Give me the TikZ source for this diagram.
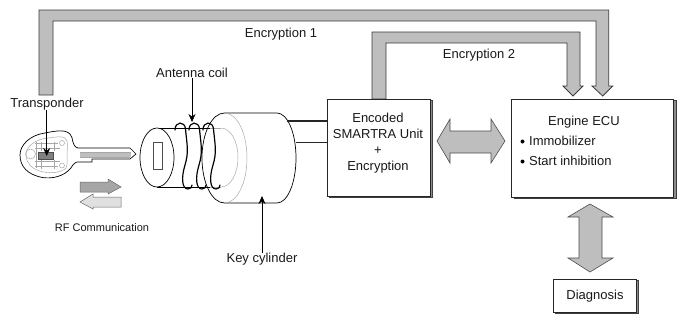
\documentclass[tikz,border=0pt]{standalone}
\usepackage{fontspec}
\setmainfont{Liberation Sans}
\usetikzlibrary{arrows.meta,calc}
\definecolor{pipefill}{HTML}{BEBEBE}
\definecolor{pipeline}{HTML}{3A3A3A}
\definecolor{sheet}{HTML}{8C8C8C}
\definecolor{fadeline}{HTML}{A8A8A8}
\tikzset{
  x=1pt,y=-1pt,
  label13/.style={inner sep=0pt,font=\fontsize{13}{16}\selectfont,text=black!90},
  label11/.style={inner sep=0pt,font=\fontsize{11}{14}\selectfont,text=black!90},
  panel/.style={draw=black!85,fill=white,line width=.7pt,inner sep=0pt},
  backsheet/.style={draw=black!75,fill=sheet,line width=.6pt,inner sep=0pt},
  pipe/.style={draw=pipeline,fill=pipefill,line width=.8pt,line join=miter},
  pointer/.style={draw=black,line width=.7pt,-{Stealth[length=8pt,width=7pt]}},
  outline/.style={draw=black,line width=.7pt},
  thin outline/.style={draw=fadeline,line width=.5pt},
  winding/.style={draw=black,line width=1.2pt,line cap=round},
}
\begin{document}
\begin{tikzpicture}
\useasboundingbox (0,0) rectangle (686,324);

% Encryption channels
\path[pipe] (39,95) -- (39,10) -- (608.7,10) -- (608.7,86) -- (612.7,86) -- (602.7,96)
  -- (592,86) -- (596,86) -- (596,21) -- (53,21) -- (53,95) -- cycle;
\path[pipe] (372,99) -- (372,32) -- (580,32) -- (580,86) -- (583,86) -- (573,96)
  -- (563,86) -- (567,86) -- (567,43) -- (386,43) -- (386,99) -- cycle;

% Stacked panels
\node[backsheet,minimum width=103,minimum height=97] at (381,148.5) {};
\node[panel,minimum width=103,minimum height=97] (smartra) at (378.5,147.5) {};
\node[backsheet,minimum width=162,minimum height=98] at (595,149.5) {};
\node[panel,minimum width=162,minimum height=98] (ecu) at (592,148) {};
\node[backsheet,minimum width=83,minimum height=33] at (597,297) {};
\node[panel,minimum width=83,minimum height=33] (diag) at (594.5,295.5) {};

\node[label13,align=center] (smartratext) at (378,143)
  {Encoded\\SMARTRA Unit\\+\\Encryption};
\node[label13] (ecutitle) at (584,122) {Engine ECU};
\node[label13,anchor=west] (immob) at (529,141) {Immobilizer};
\node[label13,anchor=west] (start) at (529,161) {Start inhibition};
\fill[black] (522.5,141.5) circle (2) (522.5,161.5) circle (2);
\node[label13] (diagtext) at (595,296) {Diagnosis};

% Two-way data paths
\path[pipe,draw=black!70,line width=.6pt]
  (437,141) -- (450,119) -- (450,131) -- (491,131) -- (491,119) -- (505,141)
  -- (491,163) -- (491,153) -- (450,153) -- (450,163) -- cycle;
\path[pipe,draw=black!70,line width=.6pt]
  (590,204) -- (613,217) -- (602,217) -- (602,258) -- (613,258) -- (590,272)
  -- (568,258) -- (579,258) -- (579,217) -- (568,217) -- cycle;

% Key cylinder body
\draw[outline] (224.5,203) .. controls (212,203) and (202,183) .. (202,158)
  .. controls (202,133) and (212,113) .. (224.5,113) -- (277,113)
  .. controls (287.5,113) and (296,133) .. (296,158)
  .. controls (296,183) and (287.5,203) .. (277,203) -- cycle;
\draw[thin outline] (224.5,113) .. controls (237,113) and (247,133) .. (247,158)
  .. controls (247,183) and (237,203) .. (224.5,203);

% Inner barrel
\draw[thin outline] (221,128) .. controls (230.4,128) and (238,141) .. (238,157.5)
  .. controls (238,174) and (230.4,187) .. (221,187);
\draw[thin outline] (210,128) -- (221,128) (210,187) -- (221,187);
\draw[outline] (157,128) -- (210,128) (157,187) -- (210,187);
\draw[outline,fill=white] (157,157.5) ellipse[x radius=17,y radius=29.5];
\draw[outline,draw=black!70,fill=white] (153,142) rectangle (162,169);

% Antenna winding
\foreach \d in {0,14,28}{
  \draw[winding,xshift=\d]
    (175,130) .. controls (175,121) and (185,121) .. (185.5,129)
    .. controls (187,145) and (189,152) .. (185,165)
    .. controls (181,178) and (182,189) .. (188,189)
    .. controls (191,189) and (192,187) .. (192,185);
}

% Wires to the encoder
\coordinate (wireA) at (287,121);
\coordinate (wireB) at (296,142);
\draw[draw=black!85,line width=1.3pt] (wireA) -- (wireA -| smartra.west);
\draw[draw=black!85,line width=1pt] (wireB) -- (wireB -| smartra.west);

% Key head and blade
\draw[outline,fill=white] (20,155) .. controls (20,145) and (30,135) .. (45,133)
  .. controls (55,131) and (65,129) .. (70,134)
  .. controls (74,138) and (71,146) .. (78,148)
  -- (130,148) -- (136,154) -- (130,159) -- (92,159) -- (92,162) -- (80,162)
  .. controls (73,161) and (73,167) .. (68,171)
  .. controls (60,178) and (48,179) .. (40,177)
  .. controls (28,174) and (20,167) .. (20,155) -- cycle;
\fill[pipefill] (80,153) rectangle (131,157);
\draw[thin outline] (80,152.5) -- (131,152.5) (80,157.5) -- (130,157.5);
\draw[thin outline] (26,155) .. controls (26,146) and (36,139) .. (48,138)
  .. controls (56,137) and (66,135) .. (67,141)
  .. controls (68,147) and (67,150) .. (67,154)
  .. controls (67,158) and (68,164) .. (66,168)
  .. controls (62,173) and (48,174) .. (40,171)
  .. controls (32,169) and (26,163) .. (26,155) -- cycle;
\draw[thin outline] (30.5,154) circle (5);
\draw[thin outline] (62,143) circle (2.5) (62,165.5) circle (2.5);
\draw[thin outline] (35,143) -- (58,143) (35,148) -- (60,148) (35,161) -- (60,161) (35,166) -- (58,166)
  (36,142) -- (36,168) (41,142) -- (41,151) (41,160) -- (41,169) (54,142) -- (54,151) (54,160) -- (54,169);
\draw[draw=black!70,fill=black!50,line width=.5pt] (38,152) rectangle (53,159.5);

% RF direction arrows
\path[draw=black!60,fill=black!35,line width=.5pt]
  (80,182) -- (108,182) -- (108,179) -- (121,187) -- (108,194) -- (108,192) -- (80,192) -- cycle;
\path[draw=black!60,fill=black!12,line width=.5pt]
  (121,197) -- (93,197) -- (93,194) -- (80,202) -- (93,209) -- (93,207) -- (121,207) -- cycle;

% Callouts
\node[label13] (transponder) at (47,104) {Transponder};
\coordinate (chip) at (46.7,156);
\draw[pointer] (transponder.south -| chip) -- (chip);

\node[label13] (antenna) at (192,73) {Antenna coil};
\coordinate (coiltop) at (192,122);
\draw[pointer] (antenna.south -| coiltop) -- (coiltop);

\node[label13] (keycyl) at (262,259) {Key cylinder};
\coordinate (cylbase) at (262,196);
\draw[pointer] (keycyl.north -| cylbase) -- (cylbase);

\node[label11] (rf) at (102,228) {RF Communication};
\node[label13] (enc1) at (281,34) {Encryption 1};
\node[label13] (enc2) at (479,55) {Encryption 2};
\end{tikzpicture}
\end{document}
